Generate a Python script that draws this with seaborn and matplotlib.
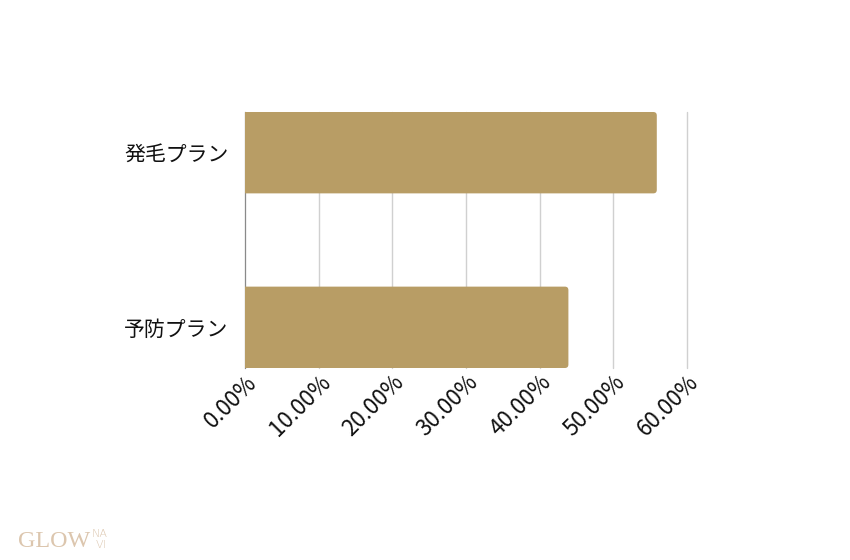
import matplotlib
matplotlib.use("Agg")
import matplotlib.pyplot as plt
import matplotlib.transforms as mtransforms
from matplotlib.patches import FancyBboxPatch
import seaborn as sns
import pandas as pd

categories = ["発毛プラン", "予防プラン"]
values = [55.9, 43.9]
tick_values = [0, 10, 20, 30, 40, 50, 60]
tick_labels = ["0.00%", "10.00%", "20.00%", "30.00%", "40.00%", "50.00%", "60.00%"]

sns.set_theme(style="white")
plt.rcParams["font.family"] = ["Noto Sans CJK JP", "DejaVu Sans"]

df = pd.DataFrame({"plan": categories, "pct": values})

fig = plt.figure(figsize=(8.5, 5.6), dpi=100)
ax = fig.add_axes([245 / 850, 1 - 368 / 560, (687 - 245) / 850, (368 - 112) / 560])

bar_color = "#b89d65"
sns.barplot(data=df, x="pct", y="plan", orient="h", color=bar_color,
            saturation=1, width=0.466, ax=ax, zorder=3)

ax.set_xlim(0, 60)
ax.set_ylim(1.233, -0.233)

# rounded bar ends (geometry taken from seaborn's bars)
fig.canvas.draw()
px_x = ax.transData.transform((1, 0))[0] - ax.transData.transform((0, 0))[0]
px_y = abs(ax.transData.transform((0, 1))[1] - ax.transData.transform((0, 0))[1])
r = 3.5 / px_x
aspect = px_x / px_y
for p in list(ax.patches):
    x0, y0 = p.get_x(), p.get_y()
    w, h = p.get_width(), p.get_height()
    p.set_visible(False)
    fb = FancyBboxPatch((x0 - 2 * r, y0), w + 2 * r, h,
                        boxstyle=f"round,pad=0,rounding_size={r}",
                        mutation_aspect=aspect, facecolor=bar_color,
                        edgecolor="none", zorder=3)
    ax.add_patch(fb)

ax.set_xticks(tick_values)
ax.set_xticklabels(tick_labels, rotation=45, ha="right", rotation_mode="anchor",
                   fontsize=16, color="#111111")
offset = mtransforms.ScaledTranslation(13 / 100, -2 / 100, fig.dpi_scale_trans)
for lab in ax.get_xticklabels():
    lab.set_transform(lab.get_transform() + offset)
ax.tick_params(axis="y", labelsize=15, pad=12, length=0, labelcolor="#111111")
ax.tick_params(axis="x", length=0, pad=2)
ax.set_xlabel("")
ax.set_ylabel("")
ax.grid(axis="x", color="#d0d0d0", linewidth=1, zorder=0)
ax.grid(axis="y", visible=False)
for gl in ax.get_xgridlines():
    gl.set_clip_on(False)
for s in ["top", "right", "bottom"]:
    ax.spines[s].set_visible(False)
ax.spines["left"].set_color("#8a8a8a")
ax.spines["left"].set_linewidth(0.8)
ax.spines["left"].set_zorder(1)

logo_color = "#dcc6ae"
fig.text(18 / 850, 1 - 547 / 560, "GLOW", family="Liberation Serif", fontsize=17.3,
         color=logo_color, ha="left", va="baseline")
fig.text(92 / 850, 1 - 537 / 560, "NA", family="DejaVu Sans", fontsize=8,
         color=logo_color, ha="left", va="baseline", fontweight="light")
fig.text(96 / 850, 1 - 548 / 560, "VI", family="DejaVu Sans", fontsize=8,
         color=logo_color, ha="left", va="baseline", fontweight="light")

fig.savefig("out.png", dpi=100, facecolor="white")
